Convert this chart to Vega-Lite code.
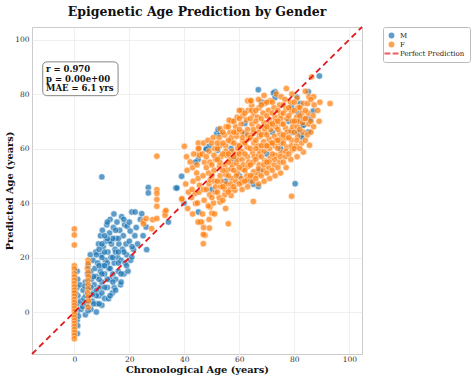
{
"$schema":"https://vega.github.io/schema/vega-lite/v6.json",
"width":330,"height":327,
"autosize":{"type":"none"},
"padding":{"left":32,"top":27,"right":112,"bottom":25},
"background":"white",
"title":{"text":"Epigenetic Age Prediction by Gender","fontSize":12.5,"fontWeight":"bold","font":"DejaVu Serif","anchor":"middle","frame":"group","offset":5,"color":"#111"},
"config":{"font":"DejaVu Serif","view":{"stroke":"#cccccc","strokeWidth":1},
"axis":{"grid":true,"gridColor":"#ebebeb","gridWidth":0.8,"domain":false,"ticks":false,"labelFontSize":7.5,"labelColor":"#333","titleFontSize":9.8,"titleFontWeight":"bold","titleColor":"#111"},
"legend":{"orient":"right","offset":21,"strokeColor":"#bbbbbb","fillColor":"white","padding":5,"cornerRadius":2,"labelFontSize":7,"labelColor":"#222","rowPadding":1,"labelOffset":5,"symbolSize":34,"symbolStrokeWidth":0}},
"layer":[
{"data":{"values":[
{"age":1,"pred":15,"sex":"M"},{"age":1.2,"pred":12,"sex":"M"},{"age":1,"pred":9,"sex":"M"},{"age":1.3,"pred":6,"sex":"M"},{"age":1,"pred":3,"sex":"M"},{"age":1.1,"pred":0,"sex":"M"},{"age":1,"pred":-3,"sex":"M"},{"age":1.2,"pred":-5,"sex":"M"},{"age":1.1,"pred":-7.9,"sex":"M"},{"age":2,"pred":10,"sex":"M"},{"age":2.2,"pred":4,"sex":"M"},{"age":2.5,"pred":1,"sex":"M"},{"age":0.5,"pred":7,"sex":"M"},{"age":1.5,"pred":-1.5,"sex":"M"},
{"age":3,"pred":2,"sex":"M"},{"age":3.5,"pred":5,"sex":"M"},{"age":3.2,"pred":8,"sex":"M"},{"age":4,"pred":-1,"sex":"M"},{"age":4.5,"pred":3,"sex":"M"},{"age":4,"pred":11,"sex":"M"},{"age":4.8,"pred":14,"sex":"M"},{"age":5,"pred":17,"sex":"M"},{"age":5.5,"pred":6,"sex":"M"},{"age":5.2,"pred":9,"sex":"M"},{"age":6,"pred":1,"sex":"M"},{"age":6.2,"pred":12,"sex":"M"},{"age":6,"pred":15,"sex":"M"},{"age":6.5,"pred":4,"sex":"M"},{"age":6.8,"pred":19,"sex":"M"},{"age":5.8,"pred":21,"sex":"M"},
{"age":7,"pred":7,"sex":"M"},{"age":7.2,"pred":10,"sex":"M"},{"age":7.5,"pred":16,"sex":"M"},{"age":7.8,"pred":22,"sex":"M"},{"age":8,"pred":0,"sex":"M"},{"age":8.2,"pred":3,"sex":"M"},{"age":8,"pred":13,"sex":"M"},{"age":8.5,"pred":18,"sex":"M"},{"age":8.8,"pred":25,"sex":"M"},{"age":9,"pred":6,"sex":"M"},{"age":9.2,"pred":9,"sex":"M"},{"age":9.5,"pred":15,"sex":"M"},{"age":9.8,"pred":21,"sex":"M"},{"age":9.5,"pred":28,"sex":"M"},{"age":10,"pred":11,"sex":"M"},{"age":10,"pred":2.5,"sex":"M"},{"age":10.3,"pred":17,"sex":"M"},{"age":10.5,"pred":24,"sex":"M"},{"age":10.2,"pred":30,"sex":"M"},
{"age":11,"pred":5,"sex":"M"},{"age":11,"pred":14,"sex":"M"},{"age":11.3,"pred":19,"sex":"M"},{"age":11.5,"pred":26,"sex":"M"},{"age":11.8,"pred":32,"sex":"M"},{"age":12,"pred":9,"sex":"M"},{"age":12.2,"pred":22,"sex":"M"},{"age":12.4,"pred":4.9,"sex":"M"},{"age":12.5,"pred":16,"sex":"M"},{"age":12.8,"pred":29,"sex":"M"},{"age":13,"pred":12,"sex":"M"},{"age":13,"pred":34,"sex":"M"},{"age":13.3,"pred":20,"sex":"M"},{"age":13.5,"pred":25,"sex":"M"},{"age":13.8,"pred":7,"sex":"M"},{"age":14,"pred":14,"sex":"M"},{"age":14.2,"pred":31,"sex":"M"},{"age":14.5,"pred":9,"sex":"M"},{"age":14.5,"pred":18,"sex":"M"},{"age":14.4,"pred":36,"sex":"M"},{"age":14.8,"pred":23,"sex":"M"},{"age":15,"pred":27,"sex":"M"},{"age":15,"pred":12,"sex":"M"},
{"age":15.5,"pred":33,"sex":"M"},{"age":15.8,"pred":20,"sex":"M"},{"age":16,"pred":15,"sex":"M"},{"age":16.2,"pred":25,"sex":"M"},{"age":16.5,"pred":30,"sex":"M"},{"age":16.8,"pred":10,"sex":"M"},{"age":17,"pred":19,"sex":"M"},{"age":17.2,"pred":35,"sex":"M"},{"age":17.5,"pred":23,"sex":"M"},{"age":17.8,"pred":28,"sex":"M"},{"age":18,"pred":14,"sex":"M"},{"age":18.3,"pred":32,"sex":"M"},{"age":18.5,"pred":18,"sex":"M"},{"age":18.8,"pred":25,"sex":"M"},{"age":19,"pred":21,"sex":"M"},{"age":19.2,"pred":31.5,"sex":"M"},{"age":19.5,"pred":15,"sex":"M"},{"age":20,"pred":26,"sex":"M"},{"age":20.3,"pred":29.7,"sex":"M"},{"age":20.5,"pred":19,"sex":"M"},{"age":20.9,"pred":20.2,"sex":"M"},{"age":20.9,"pred":36.7,"sex":"M"},
{"age":21.5,"pred":23,"sex":"M"},{"age":22,"pred":28,"sex":"M"},{"age":22.1,"pred":36.7,"sex":"M"},{"age":22.5,"pred":31,"sex":"M"},{"age":23,"pred":25,"sex":"M"},{"age":24,"pred":34,"sex":"M"},{"age":24.5,"pred":36.1,"sex":"M"},{"age":26.3,"pred":22.9,"sex":"M"},{"age":25,"pred":28,"sex":"M"},
{"age":8,"pred":8,"sex":"M"},{"age":9,"pred":12,"sex":"M"},{"age":10,"pred":14,"sex":"M"},{"age":11,"pred":9,"sex":"M"},{"age":12,"pred":12,"sex":"M"},{"age":13,"pred":16,"sex":"M"},{"age":14,"pred":20,"sex":"M"},{"age":15,"pred":22,"sex":"M"},{"age":16,"pred":18,"sex":"M"},{"age":17,"pred":14,"sex":"M"},{"age":18,"pred":22,"sex":"M"},{"age":12,"pred":18,"sex":"M"},{"age":11,"pred":22,"sex":"M"},{"age":13,"pred":26,"sex":"M"},{"age":15,"pred":30,"sex":"M"},{"age":16,"pred":27,"sex":"M"},{"age":10,"pred":20,"sex":"M"},{"age":9,"pred":17,"sex":"M"},{"age":8,"pred":21,"sex":"M"},{"age":7,"pred":13,"sex":"M"},{"age":6,"pred":9,"sex":"M"},{"age":7,"pred":3,"sex":"M"},{"age":10,"pred":7,"sex":"M"},{"age":13,"pred":6,"sex":"M"},{"age":15,"pred":8,"sex":"M"},{"age":17,"pred":11,"sex":"M"},{"age":19,"pred":17,"sex":"M"},{"age":21,"pred":24,"sex":"M"},{"age":14,"pred":27,"sex":"M"},{"age":12,"pred":27,"sex":"M"},{"age":10,"pred":25,"sex":"M"},{"age":9,"pred":23,"sex":"M"},{"age":11,"pred":28,"sex":"M"},{"age":12,"pred":33,"sex":"M"},{"age":18,"pred":34,"sex":"M"},{"age":20,"pred":33,"sex":"M"},{"age":16,"pred":22,"sex":"M"},{"age":14,"pred":11,"sex":"M"},{"age":11,"pred":17,"sex":"M"},{"age":9,"pred":3,"sex":"M"},{"age":8,"pred":6,"sex":"M"},{"age":6.5,"pred":6.5,"sex":"M"},{"age":5,"pred":0.5,"sex":"M"},{"age":4.2,"pred":6,"sex":"M"},{"age":3.8,"pred":9.5,"sex":"M"},
{"age":10,"pred":49.6,"sex":"M"},{"age":26.9,"pred":45.7,"sex":"M"},{"age":26.9,"pred":43.7,"sex":"M"},{"age":26.1,"pred":31.2,"sex":"M"},{"age":36.9,"pred":45.5,"sex":"M"},{"age":37.3,"pred":45.5,"sex":"M"},{"age":39,"pred":49.8,"sex":"M"},{"age":39.9,"pred":40,"sex":"M"},{"age":45.1,"pred":36.7,"sex":"M"},{"age":34.2,"pred":33,"sex":"M"},
{"age":48.1,"pred":60,"sex":"M"},{"age":49,"pred":60.8,"sex":"M"},{"age":47.9,"pred":59.7,"sex":"M"},{"age":52.1,"pred":59.4,"sex":"M"},{"age":51.8,"pred":65.5,"sex":"M"},{"age":53,"pred":65.5,"sex":"M"},{"age":52.3,"pred":67,"sex":"M"},{"age":62,"pred":65.5,"sex":"M"},{"age":62,"pred":69.2,"sex":"M"},{"age":79,"pred":75.3,"sex":"M"},{"age":81.5,"pred":72.8,"sex":"M"},{"age":82.1,"pred":70.4,"sex":"M"},{"age":82.8,"pred":68.6,"sex":"M"},{"age":82.5,"pred":65,"sex":"M"},{"age":81.4,"pred":66,"sex":"M"},{"age":79,"pred":66,"sex":"M"},{"age":66.9,"pred":81.6,"sex":"M"},{"age":73,"pred":80.8,"sex":"M"},{"age":72.4,"pred":80.4,"sex":"M"},{"age":73,"pred":78.7,"sex":"M"},{"age":68.1,"pred":77.1,"sex":"M"},{"age":82.1,"pred":76.5,"sex":"M"},{"age":80.9,"pred":78.9,"sex":"M"},{"age":85.1,"pred":80.8,"sex":"M"},{"age":86.9,"pred":73.8,"sex":"M"},{"age":85.1,"pred":71,"sex":"M"},{"age":85.7,"pred":70.4,"sex":"M"},{"age":85.1,"pred":66.1,"sex":"M"},{"age":83.3,"pred":68.5,"sex":"M"},{"age":82.7,"pred":64.2,"sex":"M"},{"age":89.1,"pred":86.6,"sex":"M"},{"age":80.3,"pred":47.1,"sex":"M"},{"age":66.9,"pred":46.1,"sex":"M"},{"age":65.1,"pred":46.9,"sex":"M"},{"age":67.5,"pred":52,"sex":"M"},{"age":58,"pred":56,"sex":"M"},{"age":70,"pred":58,"sex":"M"},{"age":75,"pred":60,"sex":"M"},{"age":60,"pred":50,"sex":"M"},{"age":64,"pred":48,"sex":"M"},{"age":78,"pred":70,"sex":"M"},{"age":72,"pred":66,"sex":"M"},{"age":55,"pred":48,"sex":"M"},{"age":50,"pred":45,"sex":"M"},{"age":57,"pred":60,"sex":"M"},{"age":45,"pred":56,"sex":"M"},{"age":44,"pred":55,"sex":"M"},
{"age":0,"pred":30.5,"sex":"F"},{"age":0,"pred":28.3,"sex":"F"},{"age":0,"pred":24.6,"sex":"F"},{"age":0,"pred":17,"sex":"F"},{"age":0,"pred":15.8,"sex":"F"},{"age":0,"pred":14.1,"sex":"F"},{"age":0,"pred":12.9,"sex":"F"},{"age":0,"pred":11.6,"sex":"F"},{"age":0,"pred":10.4,"sex":"F"},{"age":0,"pred":9.2,"sex":"F"},{"age":0,"pred":8,"sex":"F"},{"age":0,"pred":7,"sex":"F"},{"age":0,"pred":5.8,"sex":"F"},{"age":0,"pred":4.6,"sex":"F"},{"age":0,"pred":3.5,"sex":"F"},{"age":0,"pred":2.4,"sex":"F"},{"age":0,"pred":1.3,"sex":"F"},{"age":0,"pred":0.2,"sex":"F"},{"age":0,"pred":-0.9,"sex":"F"},{"age":0,"pred":-2,"sex":"F"},{"age":0,"pred":-3.1,"sex":"F"},{"age":0,"pred":-4.2,"sex":"F"},{"age":0,"pred":-5.3,"sex":"F"},{"age":0,"pred":-6.4,"sex":"F"},{"age":0,"pred":-7.5,"sex":"F"},{"age":0,"pred":-8.6,"sex":"F"},{"age":0,"pred":-9.8,"sex":"F"},
{"age":5,"pred":19,"sex":"F"},{"age":5,"pred":17.8,"sex":"F"},{"age":4.8,"pred":16,"sex":"F"},{"age":5,"pred":14.5,"sex":"F"},{"age":5.1,"pred":13,"sex":"F"},{"age":4.9,"pred":11.5,"sex":"F"},{"age":5,"pred":10,"sex":"F"},{"age":5,"pred":8.5,"sex":"F"},{"age":4.8,"pred":7,"sex":"F"},{"age":5,"pred":5.5,"sex":"F"},{"age":5.1,"pred":4,"sex":"F"},{"age":5,"pred":1.8,"sex":"F"},
{"age":30,"pred":57.2,"sex":"F"},{"age":30,"pred":44.9,"sex":"F"},{"age":30,"pred":43.5,"sex":"F"},{"age":30,"pred":41.3,"sex":"F"},{"age":30,"pred":38.8,"sex":"F"},{"age":25.1,"pred":33.4,"sex":"F"},{"age":25.1,"pred":32.4,"sex":"F"},{"age":26.1,"pred":34.3,"sex":"F"},{"age":28.5,"pred":33.9,"sex":"F"},{"age":30,"pred":34.3,"sex":"F"},{"age":28.1,"pred":30.6,"sex":"F"},{"age":33,"pred":36.7,"sex":"F"},{"age":33,"pred":35.5,"sex":"F"},{"age":33.3,"pred":37.3,"sex":"F"},{"age":39.1,"pred":41.3,"sex":"F"},{"age":42.1,"pred":55.1,"sex":"F"},{"age":44.1,"pred":39.8,"sex":"F"},{"age":43.9,"pred":43.5,"sex":"F"},{"age":45.1,"pred":57.9,"sex":"F"},{"age":45.5,"pred":57.5,"sex":"F"},{"age":44.5,"pred":51,"sex":"F"},{"age":46.3,"pred":33,"sex":"F"},{"age":47.5,"pred":28.2,"sex":"F"},{"age":46.9,"pred":25.1,"sex":"F"},{"age":46.9,"pred":28.5,"sex":"F"},{"age":49.1,"pred":30.8,"sex":"F"},{"age":46,"pred":33,"sex":"F"},{"age":40,"pred":60.8,"sex":"F"},{"age":39.1,"pred":41.6,"sex":"F"},{"age":45.1,"pred":62,"sex":"F"},{"age":45.1,"pred":60,"sex":"F"},{"age":56,"pred":32.4,"sex":"F"},{"age":50,"pred":36.3,"sex":"F"},{"age":49.3,"pred":38.5,"sex":"F"},
{"age":40.5,"pred":47,"sex":"F"},{"age":41.2,"pred":38,"sex":"F"},{"age":41,"pred":52,"sex":"F"},{"age":41.5,"pred":44,"sex":"F"},{"age":40.8,"pred":57,"sex":"F"},
{"age":43,"pred":36,"sex":"F"},{"age":42.6,"pred":42,"sex":"F"},{"age":43.2,"pred":48,"sex":"F"},{"age":43,"pred":53,"sex":"F"},{"age":43.4,"pred":58,"sex":"F"},{"age":42.8,"pred":45,"sex":"F"},
{"age":45,"pred":33,"sex":"F"},{"age":44.8,"pred":40,"sex":"F"},{"age":45.3,"pred":44,"sex":"F"},{"age":45,"pred":49,"sex":"F"},{"age":44.6,"pred":54,"sex":"F"},{"age":45.2,"pred":60,"sex":"F"},{"age":45.5,"pred":46.5,"sex":"F"},
{"age":47,"pred":31,"sex":"F"},{"age":46.6,"pred":36,"sex":"F"},{"age":47.2,"pred":41,"sex":"F"},{"age":47,"pred":45,"sex":"F"},{"age":46.8,"pred":50,"sex":"F"},{"age":47.3,"pred":55,"sex":"F"},{"age":47,"pred":62,"sex":"F"},{"age":46.5,"pred":58,"sex":"F"},
{"age":49,"pred":34,"sex":"F"},{"age":48.7,"pred":39,"sex":"F"},{"age":49.2,"pred":43,"sex":"F"},{"age":49,"pred":47,"sex":"F"},{"age":48.8,"pred":51,"sex":"F"},{"age":49.3,"pred":55,"sex":"F"},{"age":49,"pred":59,"sex":"F"},{"age":48.6,"pred":63,"sex":"F"},{"age":49.4,"pred":48.5,"sex":"F"},
{"age":51,"pred":36,"sex":"F"},{"age":50.6,"pred":40,"sex":"F"},{"age":51.2,"pred":44,"sex":"F"},{"age":51,"pred":48,"sex":"F"},{"age":50.8,"pred":52,"sex":"F"},{"age":51.3,"pred":56,"sex":"F"},{"age":51,"pred":60,"sex":"F"},{"age":50.5,"pred":64,"sex":"F"},{"age":51.4,"pred":46,"sex":"F"},{"age":50.8,"pred":57.5,"sex":"F"},
{"age":53,"pred":40.4,"sex":"F"},{"age":52.7,"pred":42,"sex":"F"},{"age":53.2,"pred":46,"sex":"F"},{"age":53,"pred":50,"sex":"F"},{"age":52.8,"pred":53.5,"sex":"F"},{"age":53.3,"pred":57,"sex":"F"},{"age":53,"pred":61,"sex":"F"},{"age":52.6,"pred":64,"sex":"F"},{"age":53,"pred":67.3,"sex":"F"},{"age":53.4,"pred":48,"sex":"F"},{"age":52.9,"pred":55,"sex":"F"},
{"age":55,"pred":38,"sex":"F"},{"age":54.7,"pred":43,"sex":"F"},{"age":55.2,"pred":47,"sex":"F"},{"age":55,"pred":50.5,"sex":"F"},{"age":54.8,"pred":54,"sex":"F"},{"age":55.3,"pred":57.5,"sex":"F"},{"age":55,"pred":61,"sex":"F"},{"age":54.6,"pred":65,"sex":"F"},{"age":55.2,"pred":68,"sex":"F"},{"age":55.4,"pred":52,"sex":"F"},{"age":54.9,"pred":45,"sex":"F"},{"age":55.1,"pred":59,"sex":"F"},
{"age":57,"pred":42.8,"sex":"F"},{"age":56.7,"pred":45,"sex":"F"},{"age":57.2,"pred":49,"sex":"F"},{"age":57,"pred":52.5,"sex":"F"},{"age":56.8,"pred":56,"sex":"F"},{"age":57.3,"pred":59,"sex":"F"},{"age":57,"pred":62.5,"sex":"F"},{"age":56.6,"pred":66,"sex":"F"},{"age":57.2,"pred":70,"sex":"F"},{"age":57.4,"pred":54,"sex":"F"},{"age":56.9,"pred":47,"sex":"F"},{"age":57.1,"pred":64,"sex":"F"},
{"age":58.4,"pred":44.7,"sex":"F"},{"age":58.7,"pred":48,"sex":"F"},{"age":59.2,"pred":51,"sex":"F"},{"age":59,"pred":54.5,"sex":"F"},{"age":58.8,"pred":58,"sex":"F"},{"age":59.3,"pred":61,"sex":"F"},{"age":59,"pred":64.5,"sex":"F"},{"age":58.6,"pred":68,"sex":"F"},{"age":59.2,"pred":71.5,"sex":"F"},{"age":59.4,"pred":56,"sex":"F"},{"age":58.9,"pred":50,"sex":"F"},{"age":59.1,"pred":66,"sex":"F"},{"age":59.5,"pred":60,"sex":"F"},
{"age":61,"pred":45,"sex":"F"},{"age":60.7,"pred":49,"sex":"F"},{"age":61.2,"pred":52.5,"sex":"F"},{"age":61,"pred":56,"sex":"F"},{"age":60.8,"pred":59,"sex":"F"},{"age":61.3,"pred":62.5,"sex":"F"},{"age":61,"pred":66,"sex":"F"},{"age":60.6,"pred":69,"sex":"F"},{"age":61.2,"pred":72,"sex":"F"},{"age":61.4,"pred":54,"sex":"F"},{"age":60.9,"pred":47.5,"sex":"F"},{"age":61.1,"pred":64,"sex":"F"},{"age":60.8,"pred":74,"sex":"F"},
{"age":63,"pred":46,"sex":"F"},{"age":62.7,"pred":50,"sex":"F"},{"age":63.2,"pred":53.5,"sex":"F"},{"age":63,"pred":57,"sex":"F"},{"age":62.8,"pred":60.5,"sex":"F"},{"age":63.3,"pred":63.5,"sex":"F"},{"age":63,"pred":67,"sex":"F"},{"age":62.6,"pred":70.5,"sex":"F"},{"age":63.2,"pred":74,"sex":"F"},{"age":63.4,"pred":55,"sex":"F"},{"age":62.9,"pred":48.5,"sex":"F"},{"age":63.1,"pred":65,"sex":"F"},{"age":63,"pred":77.5,"sex":"F"},
{"age":65.1,"pred":40.6,"sex":"F"},{"age":64.7,"pred":48,"sex":"F"},{"age":65.2,"pred":51.5,"sex":"F"},{"age":65,"pred":55,"sex":"F"},{"age":64.8,"pred":58.5,"sex":"F"},{"age":65.3,"pred":62,"sex":"F"},{"age":65,"pred":65.5,"sex":"F"},{"age":64.6,"pred":69,"sex":"F"},{"age":65.2,"pred":72.5,"sex":"F"},{"age":65.4,"pred":57,"sex":"F"},{"age":64.9,"pred":50,"sex":"F"},{"age":65.1,"pred":67,"sex":"F"},{"age":64.5,"pred":75.8,"sex":"F"},{"age":64.3,"pred":77.5,"sex":"F"},
{"age":67,"pred":47,"sex":"F"},{"age":66.7,"pred":50.5,"sex":"F"},{"age":67.2,"pred":54,"sex":"F"},{"age":67,"pred":57.5,"sex":"F"},{"age":66.8,"pred":61,"sex":"F"},{"age":67.3,"pred":64.5,"sex":"F"},{"age":67,"pred":68,"sex":"F"},{"age":66.6,"pred":71.5,"sex":"F"},{"age":67.2,"pred":75,"sex":"F"},{"age":67.4,"pred":59,"sex":"F"},{"age":66.9,"pred":52.5,"sex":"F"},{"age":67.1,"pred":66,"sex":"F"},{"age":67,"pred":78,"sex":"F"},
{"age":69,"pred":48,"sex":"F"},{"age":68.7,"pred":52,"sex":"F"},{"age":69.2,"pred":55.5,"sex":"F"},{"age":69,"pred":59,"sex":"F"},{"age":68.8,"pred":62.5,"sex":"F"},{"age":69.3,"pred":66,"sex":"F"},{"age":69,"pred":69.5,"sex":"F"},{"age":68.6,"pred":73,"sex":"F"},{"age":69.2,"pred":76.5,"sex":"F"},{"age":69.4,"pred":61,"sex":"F"},{"age":68.9,"pred":54,"sex":"F"},{"age":69.1,"pred":67.5,"sex":"F"},{"age":69,"pred":79.5,"sex":"F"},
{"age":71,"pred":49,"sex":"F"},{"age":70.7,"pred":53,"sex":"F"},{"age":71.2,"pred":56.5,"sex":"F"},{"age":71,"pred":60,"sex":"F"},{"age":70.8,"pred":63.5,"sex":"F"},{"age":71.3,"pred":67,"sex":"F"},{"age":71,"pred":70.5,"sex":"F"},{"age":70.6,"pred":74,"sex":"F"},{"age":71.2,"pred":77.5,"sex":"F"},{"age":71.4,"pred":62,"sex":"F"},{"age":70.9,"pred":55,"sex":"F"},{"age":71.1,"pred":69,"sex":"F"},
{"age":73,"pred":50,"sex":"F"},{"age":72.7,"pred":54,"sex":"F"},{"age":73.2,"pred":57.5,"sex":"F"},{"age":73,"pred":61,"sex":"F"},{"age":72.8,"pred":64.5,"sex":"F"},{"age":73.3,"pred":68,"sex":"F"},{"age":73,"pred":71.5,"sex":"F"},{"age":72.6,"pred":75,"sex":"F"},{"age":73.5,"pred":80,"sex":"F"},{"age":73.4,"pred":63,"sex":"F"},{"age":72.9,"pred":56,"sex":"F"},{"age":73.1,"pred":70,"sex":"F"},
{"age":75,"pred":51,"sex":"F"},{"age":74.7,"pred":55,"sex":"F"},{"age":75.2,"pred":58.5,"sex":"F"},{"age":75,"pred":62,"sex":"F"},{"age":74.8,"pred":65.5,"sex":"F"},{"age":75.3,"pred":69,"sex":"F"},{"age":75,"pred":72.5,"sex":"F"},{"age":74.6,"pred":76,"sex":"F"},{"age":75.2,"pred":79,"sex":"F"},{"age":75.4,"pred":64,"sex":"F"},{"age":74.9,"pred":57,"sex":"F"},{"age":75.1,"pred":71,"sex":"F"},
{"age":77,"pred":53,"sex":"F"},{"age":76.7,"pred":57,"sex":"F"},{"age":77.2,"pred":60.5,"sex":"F"},{"age":77,"pred":64,"sex":"F"},{"age":76.8,"pred":67.5,"sex":"F"},{"age":77.3,"pred":71,"sex":"F"},{"age":77,"pred":74.5,"sex":"F"},{"age":76.6,"pred":78,"sex":"F"},{"age":77.4,"pred":66,"sex":"F"},{"age":76.9,"pred":59,"sex":"F"},{"age":77.1,"pred":82,"sex":"F"},
{"age":79,"pred":42.5,"sex":"F"},{"age":78.7,"pred":56,"sex":"F"},{"age":79.2,"pred":59.5,"sex":"F"},{"age":79,"pred":63,"sex":"F"},{"age":78.8,"pred":66.5,"sex":"F"},{"age":79.3,"pred":70,"sex":"F"},{"age":79,"pred":73.5,"sex":"F"},{"age":78.6,"pred":77,"sex":"F"},{"age":79.4,"pred":68,"sex":"F"},{"age":78.9,"pred":61,"sex":"F"},{"age":79.1,"pred":80,"sex":"F"},
{"age":81,"pred":57,"sex":"F"},{"age":80.7,"pred":61,"sex":"F"},{"age":81.2,"pred":64.5,"sex":"F"},{"age":81,"pred":68,"sex":"F"},{"age":80.8,"pred":71.5,"sex":"F"},{"age":81.3,"pred":75,"sex":"F"},{"age":81,"pred":78.5,"sex":"F"},{"age":81.4,"pred":70,"sex":"F"},{"age":80.9,"pred":63,"sex":"F"},
{"age":83.3,"pred":58.7,"sex":"F"},{"age":82.7,"pred":62,"sex":"F"},{"age":83.2,"pred":66,"sex":"F"},{"age":83,"pred":69.5,"sex":"F"},{"age":82.8,"pred":73,"sex":"F"},{"age":83.3,"pred":76.5,"sex":"F"},{"age":84,"pred":81,"sex":"F"},{"age":83.4,"pred":71,"sex":"F"},
{"age":85.5,"pred":61.2,"sex":"F"},{"age":84.7,"pred":65,"sex":"F"},{"age":85.2,"pred":69,"sex":"F"},{"age":85,"pred":73,"sex":"F"},{"age":84.8,"pred":76.5,"sex":"F"},{"age":85.3,"pred":79,"sex":"F"},
{"age":86.3,"pred":86.3,"sex":"F"},{"age":87,"pred":68,"sex":"F"},{"age":86.8,"pred":72,"sex":"F"},{"age":87.2,"pred":76,"sex":"F"},{"age":87,"pred":79,"sex":"F"},
{"age":89,"pred":70,"sex":"F"},{"age":88.5,"pred":74,"sex":"F"},{"age":89.3,"pred":77,"sex":"F"},{"age":93,"pred":76.5,"sex":"F"},
{"age":56.3,"pred":70.4,"sex":"F"},{"age":60,"pred":74,"sex":"F"},{"age":64.1,"pred":77.5,"sex":"F"},{"age":64.5,"pred":74,"sex":"F"},
{"age":48,"pred":45,"sex":"F"},{"age":48,"pred":53,"sex":"F"},{"age":48,"pred":57,"sex":"F"},{"age":50,"pred":42,"sex":"F"},{"age":50,"pred":50,"sex":"F"},{"age":50,"pred":54,"sex":"F"},{"age":50,"pred":62,"sex":"F"},{"age":52,"pred":44,"sex":"F"},{"age":52,"pred":48,"sex":"F"},{"age":52,"pred":56,"sex":"F"},{"age":52,"pred":60,"sex":"F"},{"age":52,"pred":62,"sex":"F"},{"age":54,"pred":41,"sex":"F"},{"age":54,"pred":46,"sex":"F"},{"age":54,"pred":52,"sex":"F"},{"age":54,"pred":58,"sex":"F"},{"age":54,"pred":62,"sex":"F"},{"age":54,"pred":66,"sex":"F"},{"age":56,"pred":44,"sex":"F"},{"age":56,"pred":50,"sex":"F"},{"age":56,"pred":55,"sex":"F"},{"age":56,"pred":58,"sex":"F"},{"age":56,"pred":63,"sex":"F"},{"age":56,"pred":68,"sex":"F"},{"age":58,"pred":46,"sex":"F"},{"age":58,"pred":52,"sex":"F"},{"age":58,"pred":57,"sex":"F"},{"age":58,"pred":62,"sex":"F"},{"age":58,"pred":66,"sex":"F"},{"age":58,"pred":70,"sex":"F"},{"age":60,"pred":47,"sex":"F"},{"age":60,"pred":53,"sex":"F"},{"age":60,"pred":58,"sex":"F"},{"age":60,"pred":61,"sex":"F"},{"age":60,"pred":67,"sex":"F"},{"age":60,"pred":71,"sex":"F"},{"age":62,"pred":48,"sex":"F"},{"age":62,"pred":52,"sex":"F"},{"age":62,"pred":58,"sex":"F"},{"age":62,"pred":62,"sex":"F"},{"age":62,"pred":73,"sex":"F"},{"age":64,"pred":50,"sex":"F"},{"age":64,"pred":54,"sex":"F"},{"age":64,"pred":60,"sex":"F"},{"age":64,"pred":64,"sex":"F"},{"age":64,"pred":71,"sex":"F"},{"age":66,"pred":49,"sex":"F"},{"age":66,"pred":56,"sex":"F"},{"age":66,"pred":60,"sex":"F"},{"age":66,"pred":63,"sex":"F"},{"age":66,"pred":70,"sex":"F"},{"age":66,"pred":74,"sex":"F"},{"age":68,"pred":50,"sex":"F"},{"age":68,"pred":57,"sex":"F"},{"age":68,"pred":61,"sex":"F"},{"age":68,"pred":65,"sex":"F"},{"age":68,"pred":71,"sex":"F"},{"age":68,"pred":76,"sex":"F"},{"age":70,"pred":51,"sex":"F"},{"age":70,"pred":55,"sex":"F"},{"age":70,"pred":61,"sex":"F"},{"age":70,"pred":65,"sex":"F"},{"age":70,"pred":68,"sex":"F"},{"age":70,"pred":72,"sex":"F"},{"age":70,"pred":77,"sex":"F"},{"age":72,"pred":52,"sex":"F"},{"age":72,"pred":58,"sex":"F"},{"age":72,"pred":62,"sex":"F"},{"age":72,"pred":69,"sex":"F"},{"age":72,"pred":73,"sex":"F"},{"age":72,"pred":77,"sex":"F"},{"age":74,"pred":53,"sex":"F"},{"age":74,"pred":60,"sex":"F"},{"age":74,"pred":63,"sex":"F"},{"age":74,"pred":67,"sex":"F"},{"age":74,"pred":70,"sex":"F"},{"age":74,"pred":74,"sex":"F"},{"age":76,"pred":55,"sex":"F"},{"age":76,"pred":62,"sex":"F"},{"age":76,"pred":65,"sex":"F"},{"age":76,"pred":69,"sex":"F"},{"age":76,"pred":73,"sex":"F"},{"age":76,"pred":76,"sex":"F"},{"age":78,"pred":58,"sex":"F"},{"age":78,"pred":64,"sex":"F"},{"age":78,"pred":72,"sex":"F"},{"age":78,"pred":75,"sex":"F"},{"age":80,"pred":60,"sex":"F"},{"age":80,"pred":66,"sex":"F"},{"age":80,"pred":70,"sex":"F"},{"age":80,"pred":74,"sex":"F"},{"age":80,"pred":77,"sex":"F"},{"age":82,"pred":60,"sex":"F"},{"age":82,"pred":67,"sex":"F"},{"age":82,"pred":72,"sex":"F"},{"age":82,"pred":75,"sex":"F"},{"age":84,"pred":63,"sex":"F"},{"age":84,"pred":71,"sex":"F"},{"age":84,"pred":74,"sex":"F"},{"age":86,"pred":66,"sex":"F"},{"age":86,"pred":70,"sex":"F"},{"age":86,"pred":78,"sex":"F"}
]},
"mark":{"type":"point","filled":true,"size":42,"opacity":0.72,"stroke":"white","strokeWidth":0.6},
"encoding":{
"x":{"field":"age","type":"quantitative","scale":{"domain":[-15.4,104.6],"nice":false,"zero":false},"axis":{"title":"Chronological Age (years)","values":[0,20,40,60,80,100],"labelPadding":1,"titlePadding":2}},
"y":{"field":"pred","type":"quantitative","scale":{"domain":[-15.4,104.6],"nice":false,"zero":false},"axis":{"title":"Predicted Age (years)","values":[0,20,40,60,80,100],"labelPadding":3,"titlePadding":0}},
"color":{"field":"sex","type":"nominal","scale":{"domain":["M","F","Perfect Prediction"],"range":["#1f77b4","#ff7f0e","#e31a1c"]},"legend":{"title":null}},
"shape":{"field":"sex","type":"nominal","scale":{"domain":["M","F","Perfect Prediction"],"range":["circle","circle","M-2.4,-0.35H-0.4V0.35H-2.4Z M0.4,-0.35H2.4V0.35H0.4Z"]},"legend":{"title":null}}
}},
{"data":{"values":[{"age":-15.4,"pred":-15.4},{"age":104.6,"pred":104.6}]},
"mark":{"type":"line","color":"#e31a1c","strokeWidth":1.8,"strokeDash":[6,4]},
"encoding":{"x":{"field":"age","type":"quantitative"},"y":{"field":"pred","type":"quantitative"}}},
{"data":{"values":[{}]},
"mark":{"type":"rect","fill":"white","stroke":"#666666","strokeWidth":0.8,"cornerRadius":4},
"encoding":{"x":{"datum":-11.5},"x2":{"datum":15.9},"y":{"datum":91.8},"y2":{"datum":79.4}}},
{"data":{"values":[{}]},
"mark":{"type":"text","text":["r = 0.970","p = 0.00e+00","MAE = 6.1 yrs"],"align":"left","baseline":"top","fontSize":8.5,"fontWeight":"bold","lineHeight":9.5,"color":"#111111"},
"encoding":{"x":{"datum":-10.3},"y":{"datum":90.5}}}
]
}
